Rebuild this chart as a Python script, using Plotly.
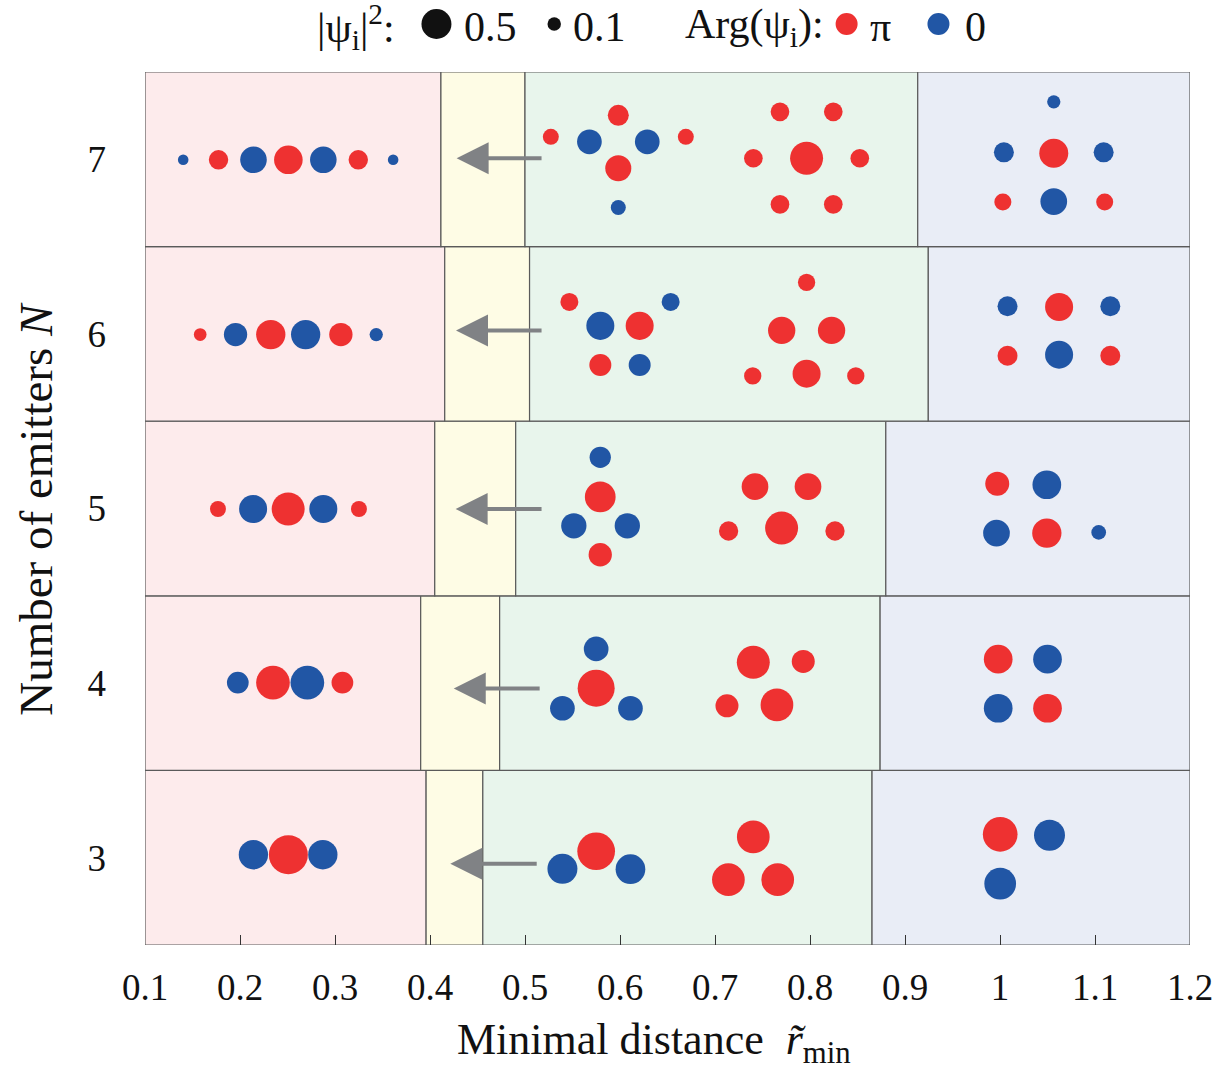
import math
import plotly.graph_objects as go

# ---------------- data ----------------
N_values = [3, 4, 5, 6, 7]
x_ticks = [0.1, 0.2, 0.3, 0.4, 0.5, 0.6, 0.7, 0.8, 0.9, 1.0, 1.1, 1.2]
x_ticktext = ["0.1", "0.2", "0.3", "0.4", "0.5", "0.6", "0.7", "0.8", "0.9", "1", "1.1", "1.2"]

# regime boundaries (minimal distance) for N = 3..7
pink_end = [0.3959, 0.3902, 0.4050, 0.4155, 0.4115]
yellow_end = [0.4556, 0.4733, 0.4902, 0.5048, 0.5000]
green_end = [0.8653, 0.8738, 0.8798, 0.9245, 0.9134]

# arrows (tail -> tip) for N = 3..7
arrow_tail = [0.5139, 0.5170, 0.5190, 0.5190, 0.5190]
arrow_tip = [0.4214, 0.4250, 0.4270, 0.4274, 0.4280]
arrow_y = [2.966, 3.969, 4.997, 6.020, 7.006]

# emitter states: x position, y position, |psi|^2, phase (1 = pi, 0 = 0)
x_N7 = [0.1402, 0.1774, 0.2142, 0.2509, 0.2877, 0.3245, 0.3612,
        0.5272, 0.5678, 0.5982, 0.5982, 0.6287, 0.6693, 0.5982,
        0.7684, 0.8245, 0.7404, 0.7964, 0.8524, 0.7684, 0.8245,
        1.0566, 1.0041, 1.0566, 1.1091, 1.0030, 1.0566, 1.1102]
y_N7 = [6.997, 6.997, 6.997, 6.997, 6.997, 6.997, 6.997,
        7.129, 7.100, 7.252, 6.949, 7.100, 7.129, 6.724,
        7.272, 7.272, 7.006, 7.006, 7.006, 6.742, 6.742,
        7.329, 7.040, 7.035, 7.040, 6.756, 6.758, 6.756]
w_N7 = [0.062, 0.209, 0.393, 0.454, 0.393, 0.209, 0.062,
        0.142, 0.339, 0.245, 0.376, 0.339, 0.142, 0.125,
        0.194, 0.194, 0.194, 0.605, 0.194, 0.194, 0.194,
        0.098, 0.222, 0.467, 0.222, 0.161, 0.396, 0.161]
ph_N7 = [0, 1, 0, 1, 0, 1, 0,
         1, 0, 1, 1, 0, 1, 0,
         1, 1, 1, 1, 1, 1, 1,
         0, 0, 1, 0, 1, 0, 1]

x_N6 = [0.1581, 0.1953, 0.2324, 0.2691, 0.3062, 0.3434,
        0.5467, 0.5793, 0.6207, 0.6533, 0.5793, 0.6207,
        0.7964, 0.7702, 0.8227, 0.7397, 0.7964, 0.8482,
        1.0079, 1.0622, 1.1161, 1.0079, 1.0622, 1.1161]
y_N6 = [5.996, 5.996, 5.996, 5.996, 5.996, 5.996,
        6.183, 6.046, 6.046, 6.183, 5.822, 5.822,
        6.295, 6.020, 6.020, 5.759, 5.772, 5.759,
        6.158, 6.154, 6.158, 5.875, 5.881, 5.875]
w_N6 = [0.090, 0.302, 0.477, 0.477, 0.302, 0.098,
        0.180, 0.436, 0.436, 0.180, 0.269, 0.269,
        0.166, 0.414, 0.414, 0.166, 0.436, 0.166,
        0.222, 0.436, 0.222, 0.222, 0.436, 0.222]
ph_N6 = [1, 0, 1, 0, 1, 0,
         1, 0, 1, 0, 1, 0,
         1, 1, 1, 1, 1, 1,
         0, 1, 0, 1, 0, 1]

x_N5 = [0.1768, 0.2138, 0.2507, 0.2877, 0.3252,
        0.5792, 0.5792, 0.5514, 0.6077, 0.5792,
        0.7421, 0.7979, 0.7143, 0.7701, 0.8263,
        0.9971, 1.0493, 0.9963, 1.0493, 1.1039]
y_N5 = [4.997, 4.997, 4.997, 4.997, 4.997,
        5.293, 5.066, 4.901, 4.901, 4.735,
        5.125, 5.125, 4.871, 4.888, 4.871,
        5.142, 5.136, 4.859, 4.859, 4.863]
w_N5 = [0.142, 0.436, 0.605, 0.436, 0.142,
        0.252, 0.524, 0.356, 0.356, 0.302,
        0.396, 0.396, 0.207, 0.605, 0.207,
        0.320, 0.458, 0.396, 0.477, 0.120]
ph_N5 = [1, 0, 1, 0, 1,
         0, 1, 0, 0, 1,
         1, 1, 1, 1, 1,
         1, 0, 0, 1, 0]

x_N4 = [0.1977, 0.2347, 0.2709, 0.3078,
        0.5749, 0.5749, 0.5394, 0.6110,
        0.7403, 0.7929, 0.7126, 0.7652,
        0.9981, 1.0500, 0.9981, 1.0500]
y_N4 = [4.003, 4.003, 4.003, 4.003,
        4.196, 3.971, 3.856, 3.856,
        4.119, 4.124, 3.870, 3.875,
        4.137, 4.137, 3.856, 3.856]
w_N4 = [0.262, 0.631, 0.631, 0.262,
        0.339, 0.760, 0.339, 0.339,
        0.605, 0.294, 0.294, 0.594,
        0.458, 0.458, 0.458, 0.458]
ph_N4 = [0, 1, 0, 1,
         0, 1, 0, 0,
         1, 1, 1, 1,
         1, 0, 0, 1]

x_N3 = [0.2141, 0.2509, 0.2872,
        0.5394, 0.5749, 0.6110,
        0.7403, 0.7141, 0.7660,
        1.0002, 1.0521, 1.0002]
y_N3 = [3.017, 3.017, 3.017,
        2.936, 3.037, 2.934,
        3.119, 2.874, 2.874,
        3.134, 3.129, 2.851]
w_N3 = [0.477, 0.845, 0.477,
        0.500, 0.790, 0.490,
        0.594, 0.594, 0.594,
        0.669, 0.534, 0.558]
ph_N3 = [0, 1, 0,
         0, 1, 0,
         1, 1, 1,
         1, 0, 0]

legend_w = [0.5, 0.1]

# ---------------- styles ----------------
FONT = "Liberation Serif"
RED = "#EE3131"
BLUE = "#2156A5"
PINK = "#FDEBEC"
YELLOW = "#FEFCE5"
GREEN = "#E8F5EC"
LAV = "#E9EDF6"
EDGE = "#5A5A5A"


def diam(w):
    return 30.0 * math.sqrt(w / 0.5)


fig = go.Figure()

# region rectangles
for i, n in enumerate(N_values):
    bounds = [0.1, pink_end[i], yellow_end[i], green_end[i], 1.2]
    fills = [PINK, YELLOW, GREEN, LAV]
    for k in range(4):
        fig.add_shape(type="rect", xref="x", yref="y",
                      x0=bounds[k], x1=bounds[k + 1], y0=n - 0.5, y1=n + 0.5,
                      fillcolor=fills[k], line=dict(color=EDGE, width=1.2),
                      layer="below")

rows = [(x_N3, y_N3, w_N3, ph_N3), (x_N4, y_N4, w_N4, ph_N4),
        (x_N5, y_N5, w_N5, ph_N5), (x_N6, y_N6, w_N6, ph_N6),
        (x_N7, y_N7, w_N7, ph_N7)]
for xs, ys, ws, phs in rows:
    fig.add_trace(go.Scatter(
        x=xs, y=ys, mode="markers", showlegend=False, hoverinfo="skip",
        marker=dict(size=[diam(w) for w in ws],
                    color=[RED if p == 1 else BLUE for p in phs],
                    line=dict(width=0), opacity=1)))

# arrows
for i in range(len(N_values)):
    fig.add_annotation(x=arrow_tip[i], y=arrow_y[i], ax=arrow_tail[i], ay=arrow_y[i],
                       xref="x", yref="y", axref="x", ayref="y", text="",
                       showarrow=True, arrowhead=2, arrowsize=1.6, arrowwidth=4,
                       arrowcolor="#808285", standoff=0, startstandoff=0)

# axis titles
fig.add_annotation(x=-0.105, y=0.5, xref="paper", yref="paper",
                   text="Number of emitters <i>N</i>", textangle=-90, showarrow=False,
                   font=dict(family=FONT, size=47, color="#111"),
                   xanchor="center", yanchor="middle")
fig.add_annotation(x=0.487, y=-0.078, xref="paper", yref="paper",
                   text="Minimal distance  <i>r\u0303</i><sub>min</sub>", showarrow=False,
                   font=dict(family=FONT, size=44, color="#111"),
                   xanchor="center", yanchor="top")

# header legend
LEG_Y = 1.052
leg_font = dict(family=FONT, size=42, color="#111")
fig.add_annotation(x=0.2015, y=LEG_Y, xref="paper", yref="paper", showarrow=False,
                   text="|\u03c8<sub>i</sub>|<sup>2</sup>:", font=leg_font,
                   xanchor="center", yanchor="middle")
fig.add_annotation(x=0.3305, y=LEG_Y, xref="paper", yref="paper", showarrow=False,
                   text="0.5", font=leg_font, xanchor="center", yanchor="middle")
fig.add_annotation(x=0.4346, y=LEG_Y, xref="paper", yref="paper", showarrow=False,
                   text="0.1", font=leg_font, xanchor="center", yanchor="middle")
fig.add_annotation(x=0.5836, y=LEG_Y, xref="paper", yref="paper", showarrow=False,
                   text="Arg(\u03c8<sub>i</sub>):", font=leg_font,
                   xanchor="center", yanchor="middle")
fig.add_annotation(x=0.7039, y=LEG_Y, xref="paper", yref="paper", showarrow=False,
                   text="\u03c0", font=leg_font, xanchor="center", yanchor="middle")
fig.add_annotation(x=0.7947, y=LEG_Y, xref="paper", yref="paper", showarrow=False,
                   text="0", font=leg_font, xanchor="center", yanchor="middle")

CIRC_Y = 1.055
leg_circles = [(0.2789, diam(legend_w[0]), "#111111"),
               (0.3916, diam(legend_w[1]), "#111111"),
               (0.6714, 22, RED),
               (0.7593, 22, BLUE)]
for cx, d, col in leg_circles:
    r = d / 2.0
    fig.add_shape(type="circle", xref="paper", yref="paper",
                  xsizemode="pixel", ysizemode="pixel",
                  xanchor=cx, yanchor=CIRC_Y, x0=-r, x1=r, y0=-r, y1=r,
                  fillcolor=col, line=dict(width=0))

fig.update_xaxes(range=[0.1, 1.2], tickvals=x_ticks, ticktext=x_ticktext,
                 ticks="inside", ticklen=10, tickwidth=1, tickcolor="#333",
                 showgrid=False, zeroline=False, showline=False,
                 tickfont=dict(family=FONT, size=37, color="#111"),
                 ticklabelstandoff=17)
fig.update_yaxes(range=[2.5, 7.5], tickvals=N_values,
                 ticktext=[str(n) for n in N_values], ticks="",
                 showgrid=False, zeroline=False, showline=False,
                 tickfont=dict(family=FONT, size=37, color="#111"),
                 ticklabelstandoff=38)

fig.update_layout(width=1225, height=1074,
                  margin=dict(l=145, r=33, t=72, b=129),
                  paper_bgcolor="white", plot_bgcolor="white",
                  showlegend=False, font=dict(family=FONT))

fig.write_html("out.html")
